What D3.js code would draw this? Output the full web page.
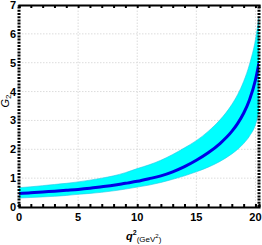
<!DOCTYPE html>
<html><head><meta charset="utf-8">
<script src="https://cdn.jsdelivr.net/npm/d3@7"></script>
<style>body{margin:0;background:#fff}svg{display:block}</style>
</head><body>
<script>
const q2 = [0,1,2,3,4,5,6,7,8,9,10,11,12,13,14,15,16,17,18,18.5,19,19.5,20,20.3];
const central = [0.47,0.49,0.52,0.55,0.58,0.61,0.65,0.70,0.75,0.82,0.89,0.98,1.08,1.22,1.40,1.62,1.88,2.2,2.62,2.9,3.25,3.72,4.4,5.0];
const upper = [0.67,0.70,0.74,0.78,0.82,0.87,0.93,1.00,1.08,1.19,1.33,1.46,1.62,1.82,2.05,2.30,2.62,3.02,3.55,3.9,4.35,4.95,5.8,6.6];
const lower = [0.31,0.33,0.35,0.37,0.40,0.44,0.47,0.51,0.56,0.62,0.69,0.76,0.85,0.96,1.08,1.22,1.38,1.58,1.84,2.0,2.2,2.46,2.85,3.3];
const xTicks = [0,5,10,15,20];
const yTicks = [0,1,2,3,4,5,6,7];

const W=262,H=245;
const svg=d3.select("body").append("svg").attr("width",W).attr("height",H);
const x=d3.scaleLinear().domain([0,20.3]).range([19,259]);
const y=d3.scaleLinear().domain([0,7]).range([207,5]);

// grid
const g=svg.append("g");
g.selectAll(".gx").data(xTicks.filter(d=>d>0)).enter().append("line")
 .attr("x1",d=>x(d)).attr("x2",d=>x(d)).attr("y1",y(0)).attr("y2",y(7))
 .attr("stroke","#dcdcdc").attr("stroke-dasharray","1.5,1.5").attr("stroke-width",1);
g.selectAll(".gy").data(yTicks.filter(d=>d>0&&d<7)).enter().append("line")
 .attr("y1",d=>y(d)).attr("y2",d=>y(d)).attr("x1",x(0)).attr("x2",x(20.3))
 .attr("stroke","#dcdcdc").attr("stroke-dasharray","1.5,1.5").attr("stroke-width",1);

const pts=q2.map((v,i)=>({q:v,c:central[i],u:upper[i],l:lower[i]}));
svg.append("clipPath").attr("id","clip").append("rect").attr("x",x(0)).attr("y",y(7)).attr("width",x(20.3)-x(0)).attr("height",y(0)-y(7));
const area=d3.area().x(d=>x(d.q)).y0(d=>y(d.l)).y1(d=>y(d.u)).curve(d3.curveMonotoneX);
svg.append("path").datum(pts).attr("d",area).attr("fill","#00ffff").attr("stroke","#22c8e8").attr("stroke-width",0.6).attr("clip-path","url(#clip)");
const line=d3.line().x(d=>x(d.q)).y(d=>y(d.c)).curve(d3.curveMonotoneX);
svg.append("path").datum(pts).attr("d",line).attr("fill","none").attr("stroke","#0000e6").attr("stroke-width",3).attr("clip-path","url(#clip)");

// frame
const fr=svg.append("g");
const xb=d3.axisBottom(x).tickValues(d3.range(0,21,1)).tickSize(-3).tickFormat("");
fr.append("g").attr("transform",`translate(0,${y(0)})`).call(xb)
 .call(a=>{a.select(".domain").attr("stroke","#000").attr("stroke-width",2.2);a.selectAll(".tick line").attr("stroke","#000").attr("stroke-width",2);});
const xt=d3.axisTop(x).tickValues(d3.range(0,21,1)).tickSize(-3).tickFormat("");
fr.append("g").attr("transform",`translate(0,${y(7)})`).call(xt)
 .call(a=>{a.select(".domain").attr("stroke","#000").attr("stroke-width",2.2);a.selectAll(".tick line").attr("stroke","#000").attr("stroke-width",2);});
fr.append("line").attr("x1",x(0)).attr("x2",x(0)).attr("y1",y(0)).attr("y2",y(7)).attr("stroke","#000").attr("stroke-width",3).attr("stroke-dasharray","2,1.2");
fr.append("line").attr("x1",x(20.3)).attr("x2",x(20.3)).attr("y1",y(0)).attr("y2",y(7)).attr("stroke","#000").attr("stroke-width",3).attr("stroke-dasharray","2,1.2");

// tick labels
const font="'Liberation Sans', Arial, sans-serif";
svg.selectAll(".xl").data(xTicks).enter().append("text")
 .attr("x",d=>x(d)).attr("y",221).attr("text-anchor","middle")
 .attr("font-family",font).attr("font-weight","bold").attr("font-size",11).text(d=>d);
svg.selectAll(".yl").data(yTicks).enter().append("text")
 .attr("x",16).attr("y",d=>y(d)+4).attr("text-anchor","end")
 .attr("font-family",font).attr("font-weight","bold").attr("font-size",11).text(d=>d);

// axis titles
const yt=svg.append("text").attr("transform","translate(9,101) rotate(-90)")
 .attr("text-anchor","middle").attr("font-family",font).attr("font-size",11);
yt.append("tspan").attr("font-style","italic").text("G");
yt.append("tspan").attr("font-size",8).attr("dy",2).text("2");

const xtl=svg.append("text").attr("x",126).attr("y",240).attr("font-family",font);
xtl.append("tspan").attr("font-style","italic").attr("font-weight","bold").attr("font-size",11).text("q");
xtl.append("tspan").attr("font-size",7).attr("font-weight","bold").attr("dy",-5).text("2");
xtl.append("tspan").attr("font-size",8).attr("dy",7).text("(GeV");
xtl.append("tspan").attr("font-size",6).attr("dy",-4).text("2");
xtl.append("tspan").attr("font-size",8).attr("dy",4).text(")");
</script>
</body></html>
